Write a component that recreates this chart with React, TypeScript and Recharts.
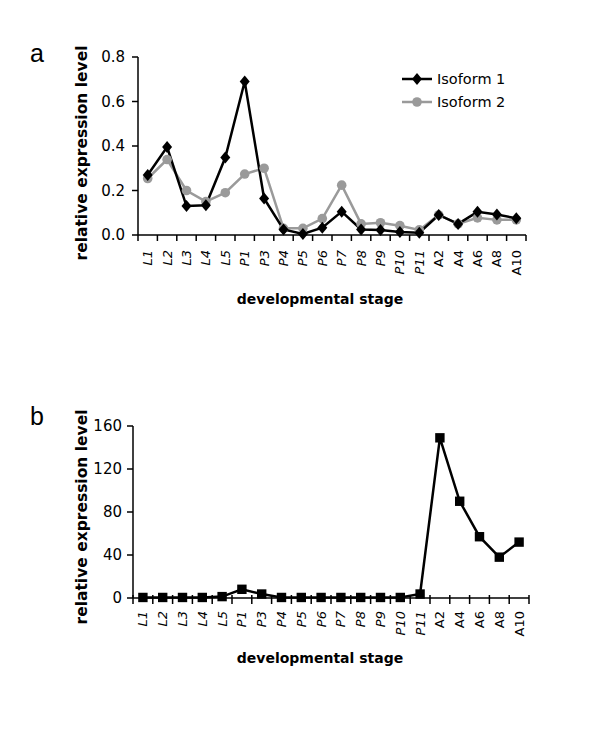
import React from 'react';
import { LineChart, Line, XAxis, YAxis, Legend } from 'recharts';

const stages = ['L1', 'L2', 'L3', 'L4', 'L5', 'P1', 'P3', 'P4', 'P5', 'P6', 'P7', 'P8', 'P9', 'P10', 'P11', 'A2', 'A4', 'A6', 'A8', 'A10'];
const isoform1 = [0.27, 0.395, 0.13, 0.134, 0.348, 0.69, 0.164, 0.025, 0.005, 0.033, 0.105, 0.025, 0.022, 0.013, 0.01, 0.09, 0.05, 0.104, 0.092, 0.075];
const isoform2 = [0.254, 0.339, 0.2, 0.15, 0.19, 0.274, 0.3, 0.03, 0.03, 0.074, 0.224, 0.05, 0.055, 0.042, 0.023, 0.09, 0.05, 0.077, 0.068, 0.068];
const panelB = [0.5, 0.5, 0.5, 0.5, 1.3, 8.1, 3.7, 0.5, 0.5, 0.5, 0.5, 0.5, 0.5, 0.5, 3.7, 149, 90, 57, 38, 52];
const ticksA = [0, 0.2, 0.4, 0.6, 0.8];
const ticksB = [0, 40, 80, 120, 160];

const dataA = stages.map((s, i) => ({ idx: i, stage: s, iso1: isoform1[i], iso2: isoform2[i] }));
const dataB = stages.map((s, i) => ({ idx: i, stage: s, val: panelB[i] }));
const labelTicks = stages.map((_, i) => i);
const xDomain = [-0.5, stages.length - 0.5];

const FONT = '"DejaVu Sans", Verdana, sans-serif';
const GRAY = '#9a9a9a';

const makeCatTick = (gap: number, up: number) => (props: any) => {
  const { x, y, payload, width } = props;
  const i = payload.value;
  const label = stages[i] ?? '';
  const half = width / stages.length / 2;
  const ty = y + gap;
  return (
    <g>
      <line x1={x - half} y1={y - up} x2={x - half} y2={y + 6} stroke="#000" strokeWidth={1.5} />
      {i === stages.length - 1 && (
        <line x1={x + half} y1={y - up} x2={x + half} y2={y + 6} stroke="#000" strokeWidth={1.5} />
      )}
      <text
        x={x}
        y={ty}
        transform={`rotate(-90, ${x}, ${ty})`}
        textAnchor="end"
        dominantBaseline="central"
        fontFamily={FONT}
        fontSize={13}
        fontStyle={label.startsWith('A') ? 'normal' : 'italic'}
        fill="#000"
      >
        {label}
      </text>
    </g>
  );
};

const Diamond = (props: any) => {
  const { cx, cy, index } = props;
  if (cx == null || cy == null) return <g key={`dm-${index}`} />;
  return (
    <polygon
      key={`dm-${index}`}
      points={`${cx},${cy - 6} ${cx + 5},${cy} ${cx},${cy + 6} ${cx - 5},${cy}`}
      fill="#000"
    />
  );
};

const Circle = (props: any) => {
  const { cx, cy, index } = props;
  if (cx == null || cy == null) return <g key={`ci-${index}`} />;
  return <circle key={`ci-${index}`} cx={cx} cy={cy} r={4.8} fill={GRAY} />;
};

const Square = (props: any) => {
  const { cx, cy, index } = props;
  if (cx == null || cy == null) return <g key={`sq-${index}`} />;
  return <rect key={`sq-${index}`} x={cx - 4.7} y={cy - 4.7} width={9.4} height={9.4} fill="#000" />;
};

const renderLegend = (props: any) => {
  const { payload } = props;
  const items = [...(payload || [])].sort((a: any, b: any) => (a.dataKey === 'iso1' ? -1 : 1));
  return (
    <svg width={150} height={50} style={{ display: 'block' }}>
      {items.map((entry: any, i: number) => {
        const cy = 11 + i * 23;
        const isIso1 = entry.dataKey === 'iso1';
        const color = isIso1 ? '#000' : GRAY;
        return (
          <g key={`lg-${i}`}>
            <line x1={2} y1={cy} x2={32} y2={cy} stroke={color} strokeWidth={2.5} />
            {isIso1 ? (
              <polygon points={`17,${cy - 6} 22,${cy} 17,${cy + 6} 12,${cy}`} fill="#000" />
            ) : (
              <circle cx={17} cy={cy} r={4.8} fill={GRAY} />
            )}
            <text x={37} y={cy} dominantBaseline="central" fontFamily={FONT} fontSize={14.5} fill="#000">
              {entry.value}
            </text>
          </g>
        );
      })}
    </svg>
  );
};

const axisLine = { stroke: '#000', strokeWidth: 1.5 };
const tickLine = { stroke: '#000', strokeWidth: 1.5 };
const yTickStyle = { fontFamily: FONT, fontSize: 15, fill: '#000' };

export default function App() {
  return (
    <div style={{ position: 'absolute', left: 0, top: 0, width: 600, height: 741, background: '#fff' }}>
      <div style={{ position: 'absolute', left: 0, top: 0 }}>
        <LineChart width={600} height={360} data={dataA} margin={{ top: 57, right: 74, left: 78, bottom: 95 }}>
          <XAxis
            dataKey="idx"
            type="number"
            domain={xDomain}
            ticks={labelTicks}
            tick={makeCatTick(15, 0)}
            tickLine={false}
            tickSize={0}
            tickMargin={0}
            axisLine={axisLine}
            height={30}
            interval={0}
            allowDataOverflow
          />
          <YAxis
            domain={[0, 0.8]}
            ticks={ticksA}
            width={60}
            tickFormatter={(v: number) => v.toFixed(1)}
            tick={yTickStyle}
            axisLine={axisLine}
            tickLine={tickLine}
            tickSize={6}
            tickMargin={7}
          />
          <Legend
            layout="vertical"
            align="center"
            verticalAlign="middle"
            content={renderLegend}
            wrapperStyle={{ position: 'absolute', left: 400, top: 68, width: 150, height: 50 }}
          />
          <Line
            dataKey="iso2"
            name="Isoform 2"
            stroke={GRAY}
            strokeWidth={2.5}
            dot={Circle}
            activeDot={false}
            isAnimationActive={false}
          />
          <Line
            dataKey="iso1"
            name="Isoform 1"
            stroke="#000"
            strokeWidth={2.5}
            dot={Diamond}
            activeDot={false}
            isAnimationActive={false}
          />
        </LineChart>
      </div>
      <div style={{ position: 'absolute', left: 0, top: 370 }}>
        <LineChart width={600} height={371} data={dataB} margin={{ top: 56, right: 71, left: 73, bottom: 113 }}>
          <XAxis
            dataKey="idx"
            type="number"
            domain={xDomain}
            ticks={labelTicks}
            tick={makeCatTick(13, 3)}
            tickLine={false}
            tickSize={0}
            tickMargin={0}
            axisLine={axisLine}
            height={30}
            interval={0}
            allowDataOverflow
          />
          <YAxis
            domain={[0, 160]}
            ticks={ticksB}
            width={60}
            tick={yTickStyle}
            axisLine={axisLine}
            tickLine={tickLine}
            tickSize={6}
            tickMargin={5}
          />
          <Line
            dataKey="val"
            name="value"
            stroke="#000"
            strokeWidth={2.5}
            dot={Square}
            activeDot={false}
            isAnimationActive={false}
          />
        </LineChart>
      </div>
      <svg width={600} height={741} style={{ position: 'absolute', left: 0, top: 0, pointerEvents: 'none' }}>
        <text x={30} y={62} fontFamily='"Liberation Sans", Arial, sans-serif' fontSize={25} fill="#000">a</text>
        <text x={30} y={425} fontFamily='"Liberation Sans", Arial, sans-serif' fontSize={25} fill="#000">b</text>
        <text
          x={82}
          y={153}
          transform="rotate(-90, 82, 153)"
          textAnchor="middle"
          dominantBaseline="central"
          fontFamily={FONT}
          fontWeight="bold"
          fontSize={15.5}
          fill="#000"
        >
          relative expression level
        </text>
        <text x={320} y={299} textAnchor="middle" dominantBaseline="central" fontFamily={FONT} fontWeight="bold" fontSize={14} fill="#000">
          developmental stage
        </text>
        <text
          x={82}
          y={517}
          transform="rotate(-90, 82, 517)"
          textAnchor="middle"
          dominantBaseline="central"
          fontFamily={FONT}
          fontWeight="bold"
          fontSize={15.5}
          fill="#000"
        >
          relative expression level
        </text>
        <text x={320} y={658} textAnchor="middle" dominantBaseline="central" fontFamily={FONT} fontWeight="bold" fontSize={14} fill="#000">
          developmental stage
        </text>
      </svg>
    </div>
  );
}
